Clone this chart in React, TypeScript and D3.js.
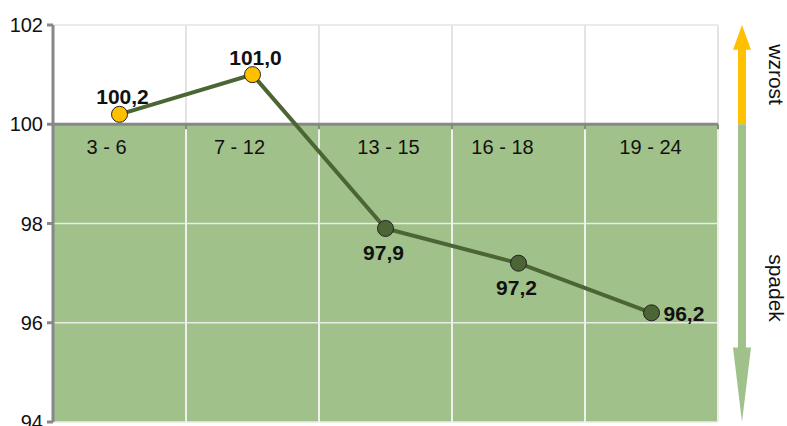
import * as d3 from "d3";
import React from "react";

const categories = ["3 - 6", "7 - 12", "13 - 15", "16 - 18", "19 - 24"];
const values = [100.2, 101.0, 97.9, 97.2, 96.2];
const labelPlacement = ["above", "above", "below", "below", "right"];
const yTicks = [94, 96, 98, 100, 102];
const baseline = 100;

const App = () => {
    const svgW = 787, svgH = 426;
    const margin = {top: 25, right: 69, bottom: 4, left: 53};
    const width = svgW - margin.left - margin.right;
    const height = svgH - margin.top - margin.bottom;

    const xScale = d3.scaleBand().domain(categories).range([0, width]);
    const yScale = d3.scaleLinear().domain([94, 102]).range([height, 0]);
    const y0 = yScale(baseline);

    const line = d3.line<number>()
        .x((_, i) => xScale(categories[i])! + xScale.bandwidth() / 2)
        .y(d => yScale(d));

    const font = "'Liberation Sans', Arial, sans-serif";
    const green = "#a0c18a";
    const dark = "#4b6534";
    const yellow = "#ffc000";

    // etykiety kategorii w oryginale nie są idealnie wyśrodkowane
    const catShift = (i: number) => (i < 2 ? -13 : i === 3 ? -16 : i === 2 ? 3 : -1);

    // strzałki po prawej
    const ax = width + 24;
    const shaft = 4;
    const head = 9;

    return (
        <svg width={svgW} height={svgH} style={{position: "absolute", left: 0, top: 0}} fontFamily={font}>
            <g transform={`translate(${margin.left},${margin.top})`}>
                <rect x={0} y={y0} width={width} height={height - y0} fill={green}/>
                {yTicks.filter(t => t !== baseline).map(t => (
                    <line key={t} x1={0} x2={width} y1={yScale(t)} y2={yScale(t)}
                          stroke={t > baseline ? "#e4e4e4" : "#e8ece4"} strokeWidth={1.5}/>
                ))}
                {categories.map((c, i) => (
                    <g key={c}>
                        <line x1={xScale(c)! + xScale.bandwidth()} x2={xScale(c)! + xScale.bandwidth()}
                              y1={0} y2={y0} stroke="#e4e4e4" strokeWidth={2}/>
                        <line x1={xScale(c)! + xScale.bandwidth()} x2={xScale(c)! + xScale.bandwidth()}
                              y1={y0} y2={height} stroke="#eef0ec" strokeWidth={2}/>
                        <line x1={xScale(c)!} x2={xScale(c)!} y1={y0} y2={y0 + 5} stroke="#888" strokeWidth={2}/>
                        <text x={xScale(c)! + xScale.bandwidth() / 2 + catShift(i)} y={y0 + 30}
                              textAnchor="middle" fontSize={20} fill="#111">{c}</text>
                    </g>
                ))}
                <line x1={width} x2={width} y1={y0} y2={y0 + 5} stroke="#888" strokeWidth={2}/>
                <line x1={0} x2={width} y1={y0} y2={y0} stroke="#888" strokeWidth={3}/>
                <line x1={0} x2={0} y1={0} y2={height} stroke="#888" strokeWidth={3}/>
                {yTicks.map(t => (
                    <g key={t}>
                        <line x1={-6} x2={0} y1={yScale(t)} y2={yScale(t)} stroke="#888" strokeWidth={3}/>
                        <text x={-10} y={yScale(t)} dy="0.35em" textAnchor="end" fontSize={20} fill="#111">{t}</text>
                    </g>
                ))}
                <path d={line(values)!} fill="none" stroke={dark} strokeWidth={4}/>
                {values.map((v, i) => {
                    const cx = xScale(categories[i])! + xScale.bandwidth() / 2;
                    const cy = yScale(v);
                    const pos = labelPlacement[i];
                    const lx = pos === "right" ? cx + 12 : cx + (pos === "above" ? 3 : -2);
                    const ly = pos === "above" ? cy - 10 : pos === "below" ? cy + 32 : cy + 8;
                    const label = d3.format(".1f")(v).replace(".", ",");
                    return (
                        <g key={i}>
                            <circle cx={cx} cy={cy} r={8} fill={v > baseline ? yellow : dark} stroke="#222" strokeWidth={1}/>
                            <text x={lx} y={ly} textAnchor={pos === "right" ? "start" : "middle"}
                                  fontSize={21} fontWeight="bold" fill="#111">{label}</text>
                        </g>
                    );
                })}
                <path d={`M${ax - shaft},${y0} L${ax - shaft},${yScale(101.5)} L${ax - head},${yScale(101.5)} L${ax},0 L${ax + head},${yScale(101.5)} L${ax + shaft},${yScale(101.5)} L${ax + shaft},${y0} Z`}
                      fill={yellow}/>
                <path d={`M${ax - shaft},${y0} L${ax - shaft},${yScale(95.5)} L${ax - head},${yScale(95.5)} L${ax},${height} L${ax + head},${yScale(95.5)} L${ax + shaft},${yScale(95.5)} L${ax + shaft},${y0} Z`}
                      fill={green}/>
                <text transform={`translate(${ax + 34},${yScale(101.0)}) rotate(90)`} textAnchor="middle"
                      dy="0.35em" fontSize={21} fill="#111">wzrost</text>
                <text transform={`translate(${ax + 34},${yScale(96.7)}) rotate(90)`} textAnchor="middle"
                      dy="0.35em" fontSize={21} fill="#111">spadek</text>
            </g>
        </svg>
    );
};

export default App;
